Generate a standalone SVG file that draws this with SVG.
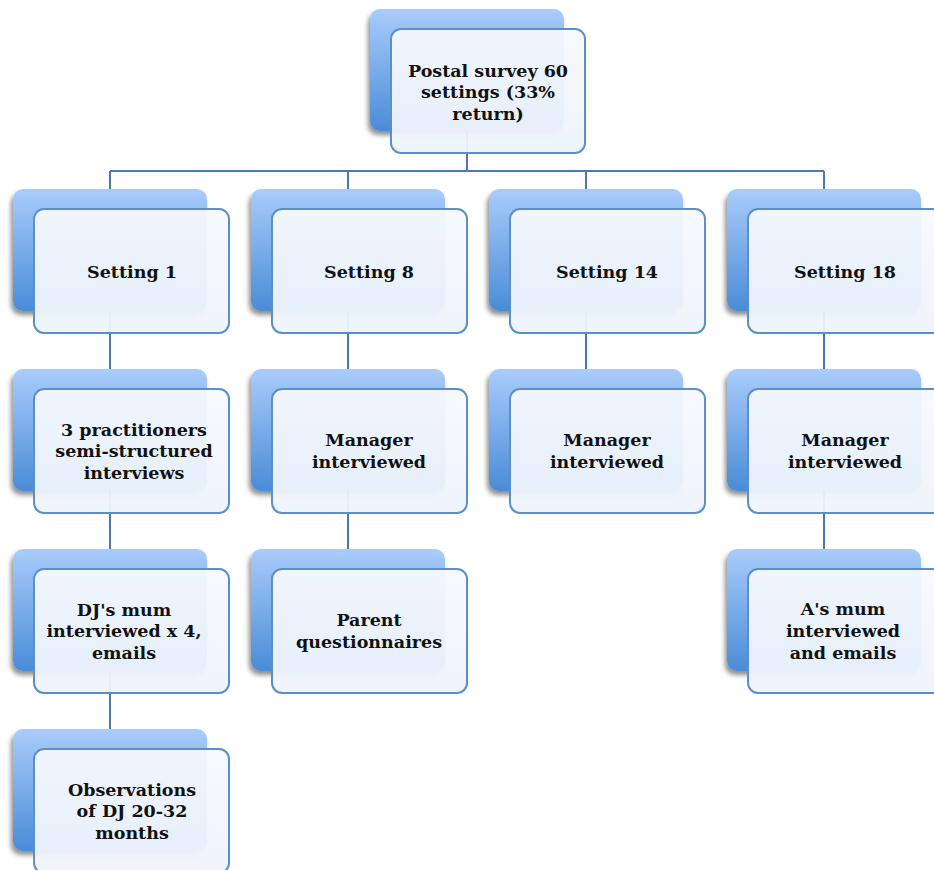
<svg xmlns="http://www.w3.org/2000/svg" width="934" height="870" viewBox="0 0 934 870">
<defs>
<linearGradient id="bg" x1="0" y1="0" x2="0" y2="1">
<stop offset="0" stop-color="#a9ccfb"/>
<stop offset="1" stop-color="#4a8cd7"/>
</linearGradient>
<linearGradient id="fg" x1="0" y1="0" x2="0" y2="1">
<stop offset="0" stop-color="#f6f9fd"/>
<stop offset="1" stop-color="#eef4fc"/>
</linearGradient>
<filter id="sh" x="-20%" y="-20%" width="140%" height="140%">
<feGaussianBlur in="SourceAlpha" stdDeviation="2.5"/>
<feOffset dx="-2" dy="4" result="b"/>
<feComponentTransfer><feFuncA type="linear" slope="0.45"/></feComponentTransfer>
<feMerge><feMergeNode/><feMergeNode in="SourceGraphic"/></feMerge>
</filter>
</defs>
<style>
.back{fill:url(#bg);filter:url(#sh)}
.front{fill:url(#fg);fill-opacity:0.94;stroke:#5d8fc7;stroke-width:2}
.lbl{font-family:"DejaVu Serif","Liberation Serif",serif;font-weight:bold;font-size:17.5px;fill:#111;text-anchor:middle}
.con{stroke:#4c79ab;stroke-width:2;fill:none}
</style>
<g id="connectors">
<path class="con" d="M467,130 V171 M110,171 H824 M110,171 V189 M348,171 V189 M586,171 V189 M824,171 V189"/>
<path class="con" d="M110,311 V369 M110,491 V549 M110,671 V729"/>
<path class="con" d="M348,311 V369 M348,491 V549"/>
<path class="con" d="M586,311 V369"/>
<path class="con" d="M824,311 V369 M824,491 V549"/>
</g>
<g id="n0"><rect class="back" x="370" y="9" width="194" height="122" rx="10"/><rect class="front" x="391" y="29" width="194" height="124" rx="10"/>
<text class="lbl" x="488" y="77">Postal survey 60</text><text class="lbl" x="488" y="98">settings (33%</text><text class="lbl" x="488" y="120">return)</text></g>
<g id="s1"><rect class="back" x="13" y="189" width="194" height="122" rx="10"/><rect class="front" x="34" y="209" width="195" height="124" rx="10"/>
<text class="lbl" x="132" y="278">Setting 1</text></g>
<g id="s8"><rect class="back" x="251" y="189" width="194" height="122" rx="10"/><rect class="front" x="272" y="209" width="195" height="124" rx="10"/>
<text class="lbl" x="369" y="278">Setting 8</text></g>
<g id="s14"><rect class="back" x="489" y="189" width="194" height="122" rx="10"/><rect class="front" x="510" y="209" width="195" height="124" rx="10"/>
<text class="lbl" x="607" y="278">Setting 14</text></g>
<g id="s18"><rect class="back" x="727" y="189" width="194" height="122" rx="10"/><rect class="front" x="748" y="209" width="195" height="124" rx="10"/>
<text class="lbl" x="845" y="278">Setting 18</text></g>
<g id="c1a"><rect class="back" x="13" y="369" width="194" height="122" rx="10"/><rect class="front" x="34" y="389" width="195" height="124" rx="10"/>
<text class="lbl" x="134" y="436">3 practitioners</text><text class="lbl" x="134" y="457">semi-structured</text><text class="lbl" x="134" y="479">interviews</text></g>
<g id="c1b"><rect class="back" x="13" y="549" width="194" height="122" rx="10"/><rect class="front" x="34" y="569" width="195" height="124" rx="10"/>
<text class="lbl" x="124" y="616">DJ's mum</text><text class="lbl" x="124" y="637">interviewed x 4,</text><text class="lbl" x="124" y="659">emails</text></g>
<g id="c1c"><rect class="back" x="13" y="729" width="194" height="122" rx="10"/><rect class="front" x="34" y="749" width="195" height="124" rx="10"/>
<text class="lbl" x="132" y="796">Observations</text><text class="lbl" x="132" y="817">of DJ 20-32</text><text class="lbl" x="132" y="839">months</text></g>
<g id="c8a"><rect class="back" x="251" y="369" width="194" height="122" rx="10"/><rect class="front" x="272" y="389" width="195" height="124" rx="10"/>
<text class="lbl" x="369" y="446">Manager</text><text class="lbl" x="369" y="468">interviewed</text></g>
<g id="c8b"><rect class="back" x="251" y="549" width="194" height="122" rx="10"/><rect class="front" x="272" y="569" width="195" height="124" rx="10"/>
<text class="lbl" x="369" y="626">Parent</text><text class="lbl" x="369" y="648">questionnaires</text></g>
<g id="c14a"><rect class="back" x="489" y="369" width="194" height="122" rx="10"/><rect class="front" x="510" y="389" width="195" height="124" rx="10"/>
<text class="lbl" x="607" y="446">Manager</text><text class="lbl" x="607" y="468">interviewed</text></g>
<g id="c18a"><rect class="back" x="727" y="369" width="194" height="122" rx="10"/><rect class="front" x="748" y="389" width="195" height="124" rx="10"/>
<text class="lbl" x="845" y="446">Manager</text><text class="lbl" x="845" y="468">interviewed</text></g>
<g id="c18b"><rect class="back" x="727" y="549" width="194" height="122" rx="10"/><rect class="front" x="748" y="569" width="195" height="124" rx="10"/>
<text class="lbl" x="843" y="615">A's mum</text><text class="lbl" x="843" y="637">interviewed</text><text class="lbl" x="843" y="659">and emails</text></g>
</svg>
